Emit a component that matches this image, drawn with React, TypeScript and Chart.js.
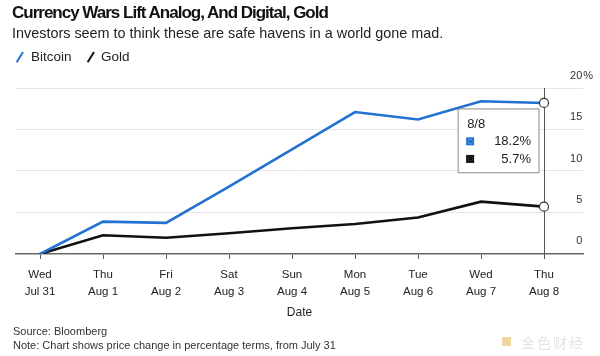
import React, { useEffect, useRef } from 'react';
import { Chart, registerables, Tooltip } from 'chart.js';

Chart.register(...registerables);

const weekdays = ['Wed', 'Thu', 'Fri', 'Sat', 'Sun', 'Mon', 'Tue', 'Wed', 'Thu'];
const dates = ['Jul 31', 'Aug 1', 'Aug 2', 'Aug 3', 'Aug 4', 'Aug 5', 'Aug 6', 'Aug 7', 'Aug 8'];
const tipDates = ['7/31', '8/1', '8/2', '8/3', '8/4', '8/5', '8/6', '8/7', '8/8'];
const bitcoin = [0, 3.9, 3.75, 8.1, 12.6, 17.1, 16.2, 18.4, 18.2];
const gold = [0, 2.25, 1.95, 2.5, 3.1, 3.6, 4.4, 6.3, 5.7];
const yTicks = [0, 5, 10, 15, 20];
const yTickLabels = ['\u20070', '\u20075', '10', '15', '20\u200A%'];

const BLUE = '#2272d2';
const BLACK = '#111111';
const FONT = '"Liberation Sans", Arial, Helvetica, sans-serif';

(Tooltip.positioners as any).besideLast = function (elements: any[]) {
  if (!elements.length) return false;
  const x = elements[0].element.x;
  const y = Math.min(...elements.map((e: any) => e.element.y));
  return { x: x - 5, y: y + 6 };
};

const hoverLine = {
  id: 'hoverLine',
  beforeDatasetsDraw(chart: any) {
    const idx = dates.length - 1;
    const x = chart.scales.x.getPixelForValue(idx);
    const { top, bottom } = chart.chartArea;
    const ctx = chart.ctx;
    ctx.save();
    ctx.strokeStyle = '#555';
    ctx.lineWidth = 1;
    ctx.beginPath();
    ctx.moveTo(Math.round(x) + 0.5, top);
    ctx.lineTo(Math.round(x) + 0.5, bottom + 5);
    ctx.stroke();
    ctx.restore();
  },
};

export default function App() {
  const ref = useRef<HTMLCanvasElement | null>(null);

  useEffect(() => {
    if (!ref.current) return;
    const last = dates.length - 1;
    const pr = (c: any) => (c.dataIndex === last ? 4.5 : 0);
    const chart = new Chart(ref.current, {
      type: 'line',
      data: {
        datasets: [
          {
            label: 'Bitcoin',
            data: bitcoin.map((v, i) => ({ x: i, y: v })),
            borderColor: BLUE,
            backgroundColor: BLUE,
            borderWidth: 2.6,
            pointRadius: pr,
            pointHoverRadius: pr,
            pointBackgroundColor: '#ffffff',
            pointBorderColor: '#333333',
            pointBorderWidth: 1.2,
            tension: 0,
          },
          {
            label: 'Gold',
            data: gold.map((v, i) => ({ x: i, y: v })),
            borderColor: BLACK,
            backgroundColor: BLACK,
            borderWidth: 2.6,
            pointRadius: pr,
            pointHoverRadius: pr,
            pointBackgroundColor: '#ffffff',
            pointBorderColor: '#333333',
            pointBorderWidth: 1.2,
            tension: 0,
          },
        ],
      },
      options: {
        responsive: false,
        animation: false,
        events: [],
        layout: { padding: { left: 16, top: 88, right: -3, bottom: 36.3 } },
        scales: {
          x: {
            type: 'linear',
            min: -24 / 63,
            max: last + 39 / 63,
            afterBuildTicks: (axis: any) => {
              axis.ticks = dates.map((_, i) => ({ value: i }));
            },
            ticks: {
              autoSkip: false,
              maxRotation: 0,
              padding: 8,
              color: '#222',
              font: { family: FONT, size: 11.5, lineHeight: 1.45 },
              callback: (v: any) => [weekdays[v], dates[v]],
            },
            grid: {
              drawOnChartArea: false,
              drawTicks: true,
              tickLength: 5,
              color: '#555',
            },
            border: { display: true, color: '#666', width: 1.5 },
            title: {
              display: true,
              text: 'Date',
              color: '#222',
              font: { family: FONT, size: 12 },
              padding: { top: -3, bottom: 0 },
            },
          },
          y: {
            position: 'right',
            min: 0,
            max: 20,
            afterBuildTicks: (axis: any) => {
              axis.ticks = yTicks.map((v) => ({ value: v }));
            },
            ticks: {
              mirror: true,
              crossAlign: 'far',
              padding: 10,
              labelOffset: -12.5,
              color: '#333',
              font: { family: FONT, size: 11 },
              callback: (v: any) => yTickLabels[yTicks.indexOf(v)],
            },
            grid: {
              drawTicks: false,
              color: (c: any) => (c.tick && c.tick.value === 0 ? 'rgba(0,0,0,0)' : '#e6e6e6'),
              lineWidth: 1,
            },
            border: { display: false },
          },
        },
        plugins: {
          legend: { display: false },
          title: { display: false },
          tooltip: {
            enabled: true,
            mode: 'index',
            intersect: false,
            position: 'besideLast' as any,
            xAlign: 'right',
            yAlign: 'top',
            caretSize: 0,
            caretPadding: 0,
            cornerRadius: 0,
            backgroundColor: '#ffffff',
            borderColor: '#888888',
            borderWidth: 1,
            titleColor: '#222',
            bodyColor: '#222',
            titleFont: { family: FONT, size: 13, weight: 'normal' },
            bodyFont: { family: FONT, size: 13 },
            titleMarginBottom: 1,
            bodySpacing: 2,
            padding: { top: 8, bottom: 6, left: 9, right: 8 },
            displayColors: true,
            boxWidth: 6,
            boxHeight: 6,
            boxPadding: 19,
            callbacks: {
              title: (items: any[]) => tipDates[items[0].dataIndex],
              label: (item: any) => {
                const s = `${item.parsed.y.toFixed(1)}%`;
                return s.padStart(5, '\u2007');
              },
              labelColor: (item: any) => ({
                borderColor: item.dataset.borderColor,
                backgroundColor: item.dataset.borderColor,
                borderWidth: 2,
              }),
            },
          },
        },
      },
      plugins: [hoverLine],
    } as any);

    const meta0 = chart.getDatasetMeta(0).data[last] as any;
    chart.tooltip?.setActiveElements(
      [
        { datasetIndex: 0, index: last },
        { datasetIndex: 1, index: last },
      ],
      { x: meta0.x, y: meta0.y }
    );
    chart.draw();

    return () => chart.destroy();
  }, []);

  const slash = (color: string, left: number) => (
    <div
      style={{
        position: 'absolute',
        left,
        top: 56,
        width: 12,
        height: 2.4,
        background: color,
        transform: 'rotate(-58deg)',
      }}
    />
  );

  return (
    <div
      style={{
        position: 'fixed',
        left: 0,
        top: 0,
        width: 600,
        height: 356,
        background: '#fff',
        fontFamily: FONT,
        color: '#111',
        overflow: 'hidden',
      }}
    >
      <canvas ref={ref} width={600} height={356} style={{ position: 'absolute', left: 0, top: 0 }} />
      <div
        style={{
          position: 'absolute',
          left: 12,
          top: 3,
          fontSize: 17,
          lineHeight: '20px',
          fontWeight: 'bold',
          letterSpacing: '-1px',
          whiteSpace: 'nowrap',
          color: '#111',
        }}
      >
        Currency Wars Lift Analog, And Digital, Gold
      </div>
      <div
        style={{
          position: 'absolute',
          left: 12,
          top: 24,
          fontSize: 14.4,
          lineHeight: '18px',
          whiteSpace: 'nowrap',
          color: '#222',
        }}
      >
        Investors seem to think these are safe havens in a world gone mad.
      </div>
      {slash(BLUE, 14)}
      <div style={{ position: 'absolute', left: 31, top: 49, fontSize: 13.5, lineHeight: '16px', color: '#222' }}>
        Bitcoin
      </div>
      {slash(BLACK, 85)}
      <div style={{ position: 'absolute', left: 101, top: 49, fontSize: 13.5, lineHeight: '16px', color: '#222' }}>
        Gold
      </div>
      <div
        style={{
          position: 'absolute',
          left: 13,
          top: 324,
          fontSize: 11,
          lineHeight: '14px',
          color: '#333',
          whiteSpace: 'nowrap',
        }}
      >
        Source: Bloomberg
        <br />
        Note: Chart shows price change in percentage terms, from July 31
      </div>
      <div
        style={{
          position: 'absolute',
          left: 502,
          top: 337,
          width: 9,
          height: 9,
          background: '#f0d7a0',
        }}
      />
      <div
        style={{
          position: 'absolute',
          left: 521,
          top: 334,
          fontSize: 14,
          lineHeight: '16px',
          color: '#e4e4e4',
          fontFamily: '"Noto Sans CJK SC", sans-serif',
          letterSpacing: '2px',
        }}
      >
        金色财经
      </div>
    </div>
  );
}
